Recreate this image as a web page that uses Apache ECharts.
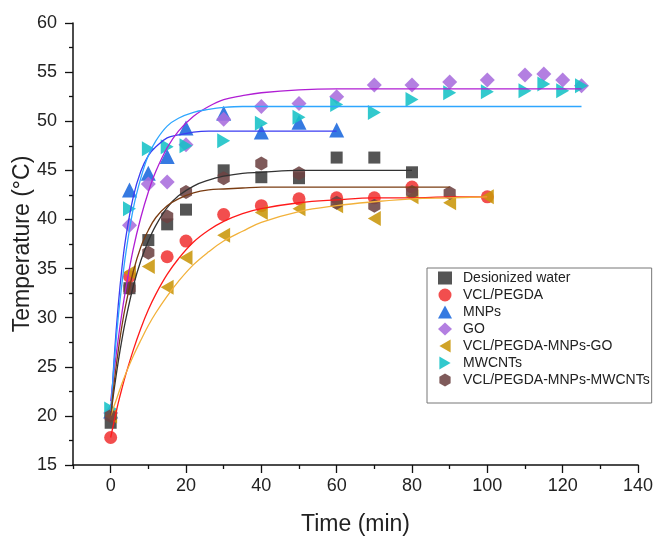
<!DOCTYPE html>
<html>
<head>
<meta charset="utf-8">
<script src="https://cdn.jsdelivr.net/npm/echarts@6/dist/echarts.min.js"></script>
<style>
  html, body { margin: 0; padding: 0; background: #fff; }
  #chart { width: 670px; height: 543px; }
</style>
</head>
<body>
<div id="chart"></div>
<script>
// measured points
const timeWater = [0, 5, 10, 15, 20, 30, 40, 50, 60, 70, 80]
const tempWater = [19.3, 33.0, 37.9, 39.5, 41.0, 45.0, 44.3, 44.2, 46.3, 46.3, 44.8]

const timeVcl = [0, 5, 15, 20, 30, 40, 50, 60, 70, 80, 100]
const tempVcl = [17.8, 34.2, 36.2, 37.8, 40.5, 41.4, 42.1, 42.2, 42.2, 43.3, 42.3]

const timeMnp = [0, 5, 10, 15, 20, 30, 40, 50, 60]
const tempMnp = [20.5, 43.0, 44.7, 46.4, 49.3, 50.8, 48.9, 49.9, 49.1]

const timeGo = [0, 5, 10, 15, 20, 30, 40, 50, 60, 70, 80, 90, 100, 110, 115, 120, 125]
const tempGo = [20.3, 39.4, 43.6, 43.8, 47.6, 50.2, 51.5, 51.8, 52.5, 53.7, 53.7, 54.0, 54.2, 54.7, 54.8, 54.2, 53.6]

const timeVclGo = [0, 5, 10, 15, 20, 30, 40, 50, 60, 70, 80, 90, 100]
const tempVclGo = [20.0, 34.6, 35.2, 33.1, 36.1, 38.4, 40.7, 41.1, 41.4, 40.1, 42.3, 41.7, 42.3]

const timeCnt = [0, 5, 10, 15, 20, 30, 40, 50, 60, 70, 80, 90, 100, 110, 115, 120, 125]
const tempCnt = [20.7, 41.1, 47.2, 47.4, 47.5, 48.0, 49.8, 50.4, 51.7, 50.9, 52.2, 52.9, 53.0, 53.1, 53.8, 53.1, 53.6]

const timeVclCnt = [0, 5, 10, 15, 20, 30, 40, 50, 60, 70, 80, 90]
const tempVclCnt = [20.0, 33.0, 36.6, 40.3, 42.8, 44.2, 45.7, 44.7, 41.7, 41.4, 42.8, 42.7]

const fitTime = [0, 1, 2, 3, 4, 6, 8, 10, 12, 15, 18, 22, 26, 30, 35, 40, 50, 60, 70, 80, 90, 100, 110, 125]
const fitWater = [20.0, 22.9, 25.5, 27.8, 29.8, 33.2, 35.8, 37.8, 39.4, 41.2, 42.4, 43.4, 44.0, 44.4, 44.7, 44.8, 45.0, 45.0, 45.0, 45.0]
const fitVcl = [17.8, 19.6, 21.3, 22.8, 24.2, 26.7, 28.9, 30.8, 32.4, 34.4, 36.0, 37.7, 38.9, 39.8, 40.6, 41.1, 41.7, 42.0, 42.2, 42.2, 42.3, 42.3]
const fitMnp = [20.0, 26.3, 31.2, 35.1, 38.1, 42.3, 44.9, 46.5, 47.4, 48.3, 48.6, 48.9, 49.0, 49.0, 49.0, 49.0, 49.0, 49.0]
const fitGo = [21.5, 24.8, 27.8, 30.5, 32.9, 37.0, 40.2, 42.8, 44.9, 47.3, 49.0, 50.5, 51.5, 52.2, 52.6, 52.9, 53.2, 53.3, 53.3, 53.3, 53.3, 53.3, 53.3, 53.3]
const fitVclGo = [20.0, 21.1, 22.2, 23.3, 24.3, 26.1, 27.7, 29.2, 30.5, 32.2, 33.7, 35.4, 36.7, 37.8, 38.8, 39.7, 40.8, 41.4, 41.8, 42.1, 42.2, 42.3]
const fitCnt = [20.5, 25.7, 30.0, 33.5, 36.5, 41.1, 44.2, 46.5, 48.0, 49.5, 50.3, 50.9, 51.2, 51.4, 51.5, 51.5, 51.5, 51.5, 51.5, 51.5, 51.5, 51.5, 51.5, 51.5]
const fitVclCnt = [20.0, 23.6, 26.6, 29.2, 31.3, 34.7, 37.2, 38.9, 40.2, 41.4, 42.1, 42.7, 43.0, 43.1, 43.2, 43.3, 43.3, 43.3, 43.3, 43.3, 43.3]

const majorTicks = [0, 20, 40, 60, 80, 100, 120, 140]
const minorTicksX = [-10, 10, 30, 50, 70, 90, 110, 130]

const hexagon = 'path://M0,-10L8.66,-5L8.66,5L0,10L-8.66,5L-8.66,-5Z'
const triLeft = 'path://M0,10L17.3,0L17.3,20Z'
const triRight = 'path://M17.3,10L0,0L0,20Z'
const font = 'Liberation Sans'

function pairs (xs, ys) {
  return ys.map((v, i) => [xs[i], v])
}

function dots (name, xs, ys, symbol, size, color) {
  return {
    name: name,
    type: 'scatter',
    data: pairs(xs, ys),
    symbol: symbol,
    symbolSize: size,
    symbolKeepAspect: true,
    itemStyle: { color: color, opacity: 0.88 },
    z: 3
  }
}

function fit (name, ys, color) {
  return {
    name: name,
    type: 'line',
    data: pairs(fitTime, ys),
    smooth: 0.4,
    showSymbol: false,
    lineStyle: { color: color, width: 1.3 },
    z: 4,
    silent: true
  }
}

const chart = echarts.init(document.getElementById('chart'))

chart.setOption({
  animation: false,
  backgroundColor: '#fff',
  textStyle: { fontFamily: font },
  grid: { left: 73, right: 32, top: 23, bottom: 78, containLabel: false, outerBoundsMode: 'none' },
  legend: {
    data: [
      { name: 'Desionized water', icon: 'rect' },
      { name: 'VCL/PEGDA', icon: 'circle' },
      { name: 'MNPs', icon: 'triangle' },
      { name: 'GO', icon: 'diamond' },
      { name: 'VCL/PEGDA-MNPs-GO', icon: triLeft },
      { name: 'MWCNTs', icon: triRight },
      { name: 'VCL/PEGDA-MNPs-MWCNTs', icon: hexagon }
    ],
    orient: 'vertical',
    left: 427,
    top: 268,
    padding: [3, 2, 16, 11],
    itemGap: 3,
    itemWidth: 14,
    itemHeight: 13,
    borderColor: '#777',
    borderWidth: 1,
    textStyle: { fontFamily: font, fontSize: 14, color: '#222', padding: [0, 0, 0, 6] }
  },
  xAxis: [
    {
      type: 'value',
      min: -10,
      max: 140,
      name: 'Time (min)',
      nameLocation: 'middle',
      nameGap: 48,
      nameMoveOverlap: false,
      nameTextStyle: { fontFamily: font, fontSize: 23, color: '#222' },
      axisLine: { onZero: false, lineStyle: { color: '#111', width: 1.5 } },
      axisTick: { length: 8, customValues: majorTicks, lineStyle: { color: '#111', width: 1.3 } },
      axisLabel: { customValues: majorTicks, fontSize: 18, color: '#222', margin: 12 },
      splitLine: { show: false }
    },
    {
      type: 'value',
      min: -10,
      max: 140,
      position: 'bottom',
      axisLine: { show: false, onZero: false },
      axisTick: { length: 4, customValues: minorTicksX, lineStyle: { color: '#111', width: 1.3 } },
      axisLabel: { show: false },
      splitLine: { show: false }
    }
  ],
  yAxis: {
    type: 'value',
    min: 15,
    max: 60,
    interval: 5,
    name: 'Temperature (°C)',
    nameLocation: 'middle',
    nameGap: 39,
    nameMoveOverlap: false,
    nameTextStyle: { fontFamily: font, fontSize: 23, color: '#222' },
    axisLine: { show: true, onZero: false, lineStyle: { color: '#111', width: 1.5 } },
    axisTick: { show: true, length: 8, lineStyle: { color: '#111', width: 1.3 } },
    minorTick: { show: true, splitNumber: 2, length: 4, lineStyle: { color: '#111', width: 1.3 } },
    axisLabel: { fontSize: 18, color: '#222', margin: 16 },
    splitLine: { show: false }
  },
  series: [
    dots('Desionized water', timeWater, tempWater, 'rect', 12, '#3d3d3d'),
    dots('VCL/PEGDA', timeVcl, tempVcl, 'circle', 13, '#f03535'),
    dots('MNPs', timeMnp, tempMnp, 'triangle', 15, '#1a68dd'),
    dots('GO', timeGo, tempGo, 'diamond', 15, '#a86ddd'),
    dots('VCL/PEGDA-MNPs-GO', timeVclGo, tempVclGo, triLeft, 15, '#c9960a'),
    dots('MWCNTs', timeCnt, tempCnt, triRight, 15, '#16c2c6'),
    dots('VCL/PEGDA-MNPs-MWCNTs', timeVclCnt, tempVclCnt, hexagon, 14, '#6d4343'),
    fit('fit water', fitWater, '#333333'),
    fit('fit vcl', fitVcl, '#ff1a1a'),
    fit('fit mnp', fitMnp, '#3b3df2'),
    fit('fit go', fitGo, '#b01ed4'),
    fit('fit vcl go', fitVclGo, '#f2b13a'),
    fit('fit cnt', fitCnt, '#2ea6ff'),
    fit('fit vcl cnt', fitVclCnt, '#7a3c12')
  ]
})
</script>
</body>
</html>
